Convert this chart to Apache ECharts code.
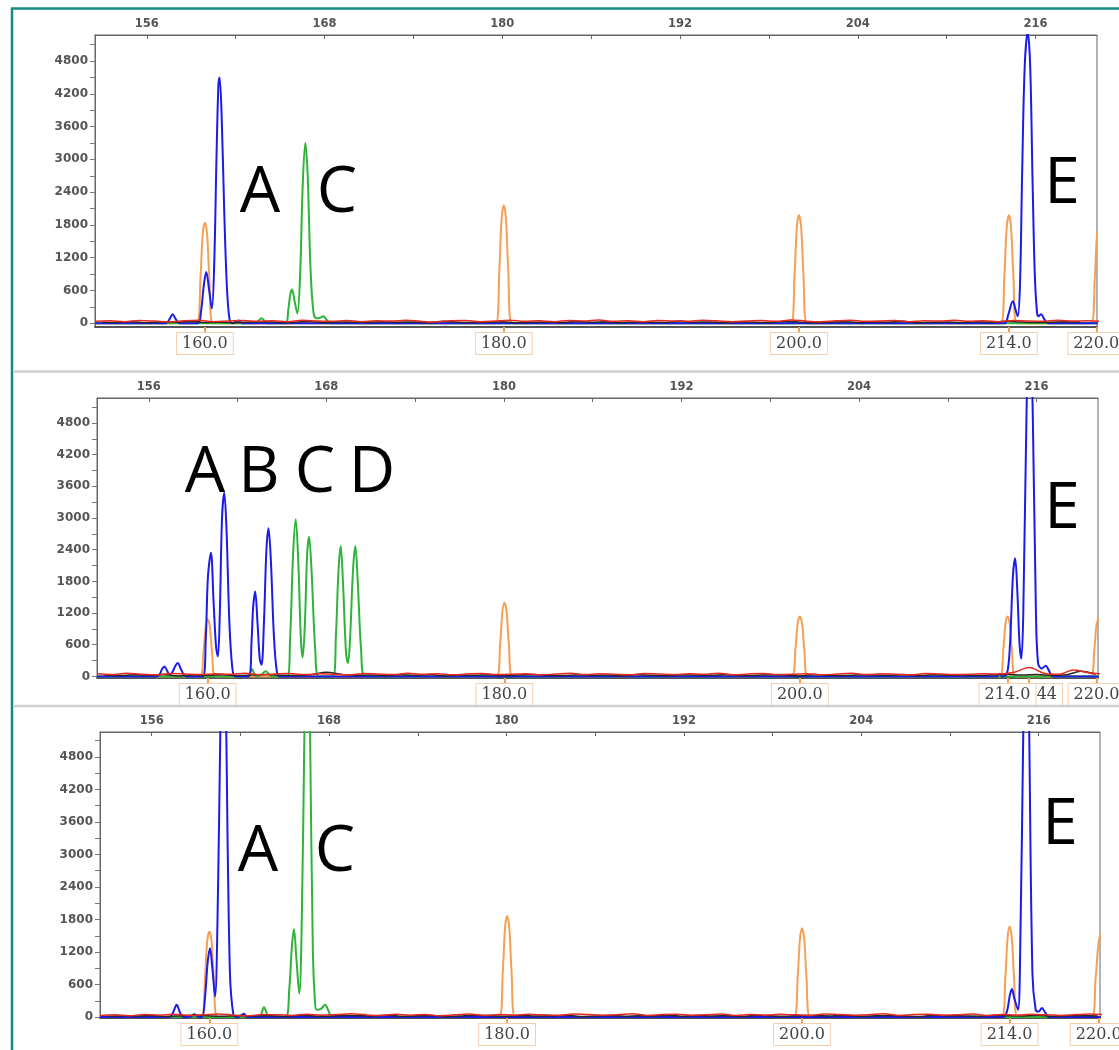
<!DOCTYPE html>
<html>
<head>
<meta charset="utf-8">
<script src="https://cdn.jsdelivr.net/npm/echarts@6/dist/echarts.min.js"></script>
<style>
html,body{margin:0;padding:0;background:#fff;}
#main{width:1119px;height:1050px;}
</style>
</head>
<body>
<div id="main"></div>
<script>
// ---- axis ticks / labels ----
var topTicks = [156,162,168,174,180,186,192,198,204,210,216];
var topLabels = [156,168,180,192,204,216];
var yLabels = [0,600,1200,1800,2400,3000,3600,4200,4800];
var yTicks = [0,300,600,900,1200,1500,1800,2100,2400,2700,3000,3300,3600,3900,4200,4500,4800,5100];
var xMin = 152.5, xMax = 220.15;
var yMin = [-68,-30,-18];
var yMax = [5276,5273,5261];

// size-standard labels (bottom axis)
var p1SizePos = [159.92,180.1,200.03,214.2,220.1];
var p1SizeTxt = ['160.0','180.0','200.0','214.0','220.0'];
var p2SizePos = [159.98,180.03,200.0,215.49,214.03,220.05];
var p2SizeTxt = ['160.0','180.0','200.0','215.44','214.0','220.0'];
var p3SizePos = [159.9,180.04,199.99,214.03,220.06];
var p3SizeTxt = ['160.0','180.0','200.0','214.0','220.0'];

// ---- panel 1 ----
var p1Blue = [[152.5,0],[157.3,0],[157.52,70],[157.74,165],[157.96,70],[158.2,0],
  [159.45,0],[159.65,200],[159.85,700],[160.01,940],[160.2,620],[160.39,270],[160.55,1100],[160.7,3000],[160.83,4350],[160.91,4500],[161.05,3800],[161.22,2100],[161.4,700],[161.59,60],[161.8,0],[162.0,30],[162.2,50],[162.45,0],
  [213.9,0],[214.15,150],[214.47,403],[214.65,250],[214.8,128],[214.95,700],[215.1,2800],[215.27,4700],[215.47,5330],[215.64,4700],[215.8,2600],[215.95,900],[216.1,200],[216.2,130],[216.37,165],[216.6,70],[216.85,0],[220.2,0]];
var p1Green = [[152.5,0],[163.35,0],[163.55,50],[163.73,90],[163.92,50],[164.1,0],
  [165.37,0],[165.55,250],[165.68,520],[165.8,617],[165.98,400],[166.16,180],[166.35,900],[166.52,2500],[166.7,3300],[166.86,2700],[167.05,1000],[167.25,200],[167.45,90],[167.68,100],[167.9,128],[168.15,60],[168.4,0],[220.2,0]];
var p1Orange = [[152.5,0],[159.37,0],[159.62,820],[159.77,1620],[159.92,1840],[160.07,1620],[160.22,820],[160.47,0],
  [179.55,0],[179.8,970],[179.95,1900],[180.1,2160],[180.25,1900],[180.4,970],[180.65,0],
  [199.48,0],[199.73,890],[199.88,1740],[200.03,1980],[200.18,1740],[200.33,890],[200.58,0],
  [213.65,0],[213.9,890],[214.05,1740],[214.2,1980],[214.35,1740],[214.5,890],[214.75,0],
  [219.75,0],[220.0,820],[220.15,1612],[220.3,1830]];
var p1Red = [35,45,30,50,40,25,45,55,30,40,50,35,45,30,55,40,35,50,30,45,40,55,35,25,45,50,30,40,55,35,
  45,30,50,40,60,35,45,30,50,40,35,55,45,30,40,50,35,60,40,30,45,55,35,40,50,30,45,40,55,35,45,30,50,40,35,55,40,45,35];
var p1Black = [20,15,30,10,25,20,35,15,20,10,25,30,15,20,35,10,25,20,15,30,20,25,10,35,20,15,25,30,10,20,
  25,15,35,20,30,10,25,20,15,40,20,25,10,30,20,15,35,25,10,20,30,15,25,20,35,10,20,25,15,30,20,35,25,15,20,30,25];

// ---- panel 2 ----
var p2Blue = [[152.5,0],[156.5,0],[156.75,50],[156.9,140],[157.05,189],[157.2,130],[157.4,40],[157.55,60],[157.8,200],[157.96,252],[158.15,150],[158.4,20],[158.6,0],
  [159.65,0],[159.85,700],[160.0,1900],[160.2,2344],[160.38,1400],[160.55,550],[160.67,378],[160.8,1200],[160.95,3000],[161.1,3478],[161.25,2800],[161.45,1000],[161.65,150],[161.85,0],
  [162.75,0],[162.95,700],[163.05,1300],[163.19,1607],[163.35,1000],[163.5,330],[163.62,221],[163.78,1000],[163.95,2400],[164.09,2805],[164.25,2200],[164.45,800],[164.65,100],[164.85,0],
  [213.3,0],[213.5,50],[213.7,0],[214.0,50],[214.2,600],[214.4,1900],[214.55,2238],[214.7,1600],[214.85,600],[214.97,335],[215.1,1200],[215.32,5000],[215.53,7200],[215.74,5000],[215.95,1300],[216.1,250],[216.35,150],[216.62,202],[216.85,100],[217.1,0],[220.2,0]];
var p2Green = [[152.5,0],[162.7,0],[162.85,70],[162.97,140],[163.1,70],[163.3,0],[163.6,30],[163.9,100],[164.15,30],[164.35,0],
  [165.35,0],[165.55,700],[165.75,2300],[165.93,2975],[166.1,2200],[166.28,700],[166.4,360],[166.55,1000],[166.7,2300],[166.83,2646],[167.0,2000],[167.25,500],[167.5,0],
  [168.45,0],[168.65,800],[168.82,2000],[168.97,2470],[169.12,1800],[169.33,450],[169.46,252],[169.6,700],[169.8,2000],[169.96,2470],[170.12,1800],[170.35,500],[170.6,0],[220.2,0]];
var p2Orange = [[152.5,0],[159.45,0],[159.7,480],[159.85,950],[159.98,1085],[160.12,950],[160.27,480],[160.52,0],
  [179.5,0],[179.75,630],[179.9,1230],[180.03,1393],[180.18,1230],[180.33,630],[180.58,0],
  [199.45,0],[199.7,510],[199.85,1000],[200.0,1134],[200.15,1000],[200.3,510],[200.55,0],
  [213.5,0],[213.75,510],[213.9,1000],[214.03,1134],[214.18,1000],[214.33,510],[214.58,0],
  [219.65,0],[219.9,500],[220.05,980],[220.2,1110]];
var p2Red = [50,35,60,40,30,55,45,35,50,40,60,30,45,55,35,50,40,30,55,45,35,60,40,50,30,45,55,35,40,50,
  30,45,60,35,50,40,30,55,45,35,50,40,60,30,45,55,35,40,50,30,45,60,35,50,40,30,55,45,35,40,50,45,80,170,60,40,120,70,45];
var p2Black = [25,15,30,20,35,10,25,20,30,15,25,35,20,15,30,80,40,20,25,15,30,20,35,10,25,20,30,15,25,35,
  20,15,30,20,25,10,35,20,15,30,25,20,35,15,20,30,25,10,35,20,15,30,25,20,35,15,30,20,25,15,30,40,25,35,20,30,100,40];

// ---- panel 3 ----
var p3Blue = [[152.5,0],[157.2,0],[157.45,90],[157.69,227],[157.9,90],[158.15,0],[158.65,10],[158.88,50],[159.1,10],
  [159.4,0],[159.6,350],[159.78,1000],[159.94,1271],[160.1,900],[160.28,380],[160.45,1800],[160.65,5500],[160.84,9000],[161.03,5500],[161.28,900],[161.52,50],[161.8,0],[162.05,30],[162.24,60],[162.45,0],
  [213.6,0],[213.85,100],[214.05,400],[214.19,516],[214.35,350],[214.6,134],[214.75,1200],[214.97,5500],[215.16,9000],[215.35,5500],[215.58,800],[215.8,130],[216.0,100],[216.22,165],[216.45,80],[216.7,0],[220.2,0]];
var p3Green = [[152.5,0],[163.3,0],[163.45,90],[163.59,184],[163.75,90],[163.95,0],
  [165.05,0],[165.3,500],[165.48,1300],[165.62,1621],[165.78,1100],[165.98,430],[166.15,1800],[166.34,5500],[166.52,9000],[166.7,5500],[166.9,1200],[167.05,250],[167.16,134],[167.45,150],[167.72,227],[167.95,120],[168.2,0],[220.2,0]];
var p3Orange = [[152.5,0],[159.35,0],[159.6,710],[159.75,1390],[159.9,1577],[160.05,1390],[160.2,710],[160.45,0],
  [179.5,0],[179.75,840],[179.9,1640],[180.04,1866],[180.19,1640],[180.34,840],[180.59,0],
  [199.45,0],[199.7,740],[199.85,1440],[199.99,1640],[200.14,1440],[200.29,740],[200.54,0],
  [213.5,0],[213.75,750],[213.9,1470],[214.03,1669],[214.18,1470],[214.33,750],[214.58,0],
  [219.6,0],[219.85,700],[220.05,1363],[220.2,1550]];
var p3Red = [30,40,25,45,35,50,30,40,55,35,25,45,40,30,50,35,45,60,40,30,50,35,45,25,40,55,30,45,35,50,
  40,30,55,45,35,40,60,30,45,50,35,40,55,30,45,35,50,40,30,55,45,35,40,60,30,45,50,35,40,55,30,45,35,50,40,30,45,55,40];
var p3Black = [15,25,20,30,10,25,35,20,15,30,20,25,10,35,20,15,30,25,20,35,15,25,30,10,20,35,25,15,30,20,
  25,35,10,20,30,15,25,20,35,15,30,20,25,10,35,20,15,30,25,20,35,15,25,30,20,10,35,25,20,15,30,25,20,35,15,25,30,20];

(function setTraces(){
    var chart = echarts.init(document.getElementById('main'));

    var boxes = [
        {left:95, top:35, width:1002, height:292},
        {left:97, top:398, width:1001, height:280},
        {left:100, top:732, width:1000, height:286}
    ];
    var traces = [
        {blue:p1Blue, green:p1Green, orange:p1Orange, red:p1Red, black:p1Black, pos:p1SizePos, txt:p1SizeTxt},
        {blue:p2Blue, green:p2Green, orange:p2Orange, red:p2Red, black:p2Black, pos:p2SizePos, txt:p2SizeTxt},
        {blue:p3Blue, green:p3Green, orange:p3Orange, red:p3Red, black:p3Black, pos:p3SizePos, txt:p3SizeTxt}
    ];

    function noise(arr, start){
        var out = [];
        for (var i = 0; i < arr.length; i++) out.push([start + i, arr[i]]);
        return out;
    }

    var axisFont = {fontFamily:'DejaVu Sans', fontWeight:'bold', color:'#555'};
    var grids = [], xAxes = [], yAxes = [], series = [];

    traces.forEach(function(t, i){
        var b = boxes[i];
        grids.push({left:b.left, top:b.top, width:b.width, height:b.height,
            containLabel:false, outerBoundsMode:'none',
            show:true, borderColor:'#666', borderWidth:1, backgroundColor:'#fff'});
        // top axis (x index 2*i)
        xAxes.push({
            type:'value', gridIndex:i, position:'top', min:xMin, max:xMax,
            axisLine:{onZero:false, lineStyle:{color:'#666', width:1}},
            axisTick:{show:true, inside:true, length:4, customValues:topTicks, lineStyle:{color:'#666'}},
            axisLabel:Object.assign({fontSize:11.5, margin:5, customValues:topLabels,
                formatter:function(v){ return String(v); }}, axisFont),
            splitLine:{show:false}
        });
        // bottom axis with size standard labels
        xAxes.push({
            type:'value', gridIndex:i, position:'bottom', min:xMin, max:xMax,
            axisLine:{onZero:false, lineStyle:{color:'#555', width:2}},
            axisTick:{show:true, length:5, customValues:t.pos, lineStyle:{color:'#f0a050', width:2}},
            axisLabel:{
                customValues:t.pos, margin:6,
                fontFamily:'DejaVu Serif', fontSize:16, color:'#444',
                backgroundColor:'#fff', borderColor:'#f5cfae', borderWidth:1,
                padding:[2,5,1,5], lineHeight:18,
                formatter:function(v){
                    for (var k = 0; k < t.pos.length; k++) {
                        if (Math.abs(t.pos[k] - v) < 0.001) return t.txt[k];
                    }
                    return '';
                }
            },
            splitLine:{show:false}
        });
        yAxes.push({
            type:'value', gridIndex:i, min:yMin[i], max:yMax[i],
            axisLine:{show:true, onZero:false, lineStyle:{color:'#666'}},
            axisTick:{show:true, length:5, customValues:yTicks, lineStyle:{color:'#777'}},
            axisLabel:Object.assign({fontSize:12, margin:7, customValues:yLabels,
                formatter:function(v){ return String(v); }}, axisFont),
            splitLine:{show:false}
        });
        var defs = [
            {d:t.orange, c:'#f5a055', w:2},
            {d:t.green, c:'#2fb33a', w:2},
            {d:t.blue, c:'#1c1ce8', w:2},
            {d:noise(t.black, 153), c:'#2a2a2a', w:1.5},
            {d:noise(t.red, 152.5), c:'#e82a20', w:1.5}
        ];
        defs.forEach(function(s){
            series.push({
                type:'line', xAxisIndex:2*i, yAxisIndex:i,
                data:s.d, showSymbol:false, smooth:0.35, clip:true,
                lineStyle:{color:s.c, width:s.w}, itemStyle:{color:s.c}
            });
        });
    });

    var letterFont = '64px "Open Sans"';
    var letters = [
        ['A',260,194],['C',337,194],['E',1062,185],
        ['A',205,474],['B',259,474],['C',315,474],['D',372,474],['E',1062,510],
        ['A',258,853],['C',335,853],['E',1060,826]
    ];
    var graphics = [
        {type:'line', shape:{x1:11, y1:8.5, x2:1119, y2:8.5}, style:{stroke:'#178a86', lineWidth:2.5}, z:100},
        {type:'line', shape:{x1:12, y1:8, x2:12, y2:1050}, style:{stroke:'#178a86', lineWidth:2.5}, z:100},
        {type:'line', shape:{x1:13.5, y1:371.5, x2:1119, y2:371.5}, style:{stroke:'#cfcfcf', lineWidth:2.5}, z:100},
        {type:'line', shape:{x1:13.5, y1:706, x2:1119, y2:706}, style:{stroke:'#cfcfcf', lineWidth:2.5}, z:100}
    ];
    letters.forEach(function(l){
        graphics.push({type:'text', x:l[1], y:l[2], z:100,
            style:{text:l[0], font:letterFont, fill:'#000', textAlign:'center', textVerticalAlign:'middle'}});
    });

    var option = {
        animation:false,
        backgroundColor:'#fff',
        grid:grids,
        xAxis:xAxes,
        yAxis:yAxes,
        series:series,
        graphic:graphics
    };
    chart.setOption(option);
})();
</script>
</body>
</html>
